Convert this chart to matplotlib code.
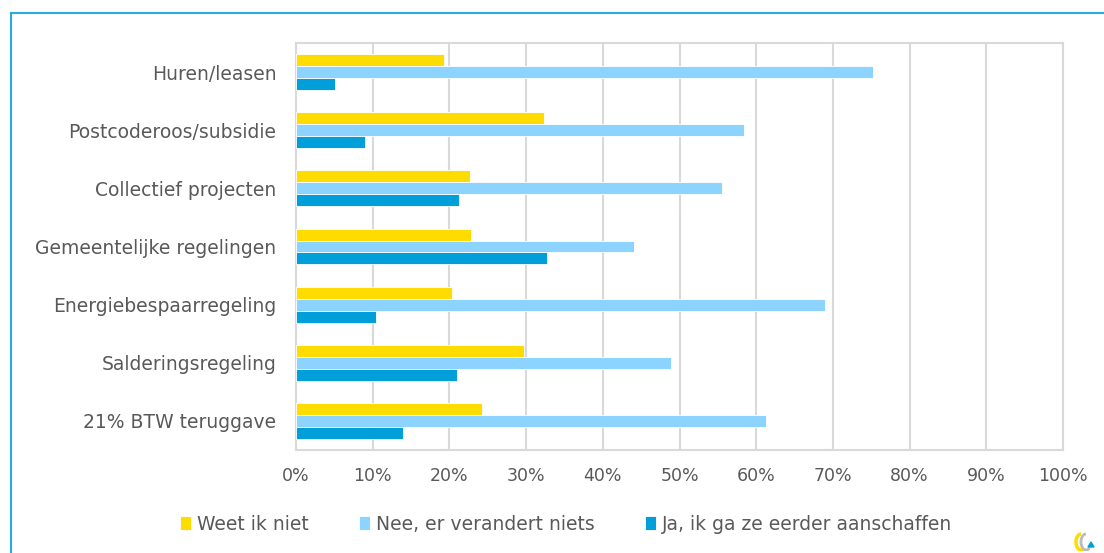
import matplotlib
matplotlib.use("Agg")
import matplotlib.pyplot as plt
from matplotlib.patches import Arc, Polygon
import numpy as np

categories = ["21% BTW teruggave", "Salderingsregeling", "Energiebespaarregeling",
              "Gemeentelijke regelingen", "Collectief projecten",
              "Postcoderoos/subsidie", "Huren/leasen"]
weet_niet = [24.3, 29.7, 20.3, 22.8, 22.7, 32.3, 19.3]
nee_niets = [61.3, 48.9, 69.0, 44.1, 55.6, 58.4, 75.2]
ja_eerder = [14.0, 21.0, 10.4, 32.7, 21.3, 9.0, 5.1]
series_names = ["Weet ik niet", "Nee, er verandert niets", "Ja, ik ga ze eerder aanschaffen"]
colors = ["#FFDC00", "#8DD3FF", "#009FD9"]
xticks = list(range(0, 101, 10))

plt.rcParams['font.family'] = ['DejaVu Sans']
txt = "#595959"

fig = plt.figure(figsize=(11.04, 5.53), dpi=100)
W, H = 1104, 553
ax = fig.add_axes([296 / W, 1 - 450 / H, (1063 - 296) / W, (450 - 43) / H])

y = np.arange(len(categories))
h = 0.205
for vals, off, c, name in zip([weet_niet, nee_niets, ja_eerder], [h, 0, -h], colors, series_names):
    ax.barh(y + off, vals, height=h, color=c, edgecolor="white", linewidth=0.6, label=name, zorder=3)

ax.set_xlim(0, 100)
ax.set_ylim(-0.5, len(categories) - 0.5)
ax.set_xticks(xticks)
ax.set_xticklabels([f"{v}%" for v in xticks], color=txt, fontsize=12.5)
ax.set_yticks(y)
ax.set_yticklabels(categories, color=txt, fontsize=13.5)
ax.tick_params(axis='y', length=0, pad=14)
ax.tick_params(axis='x', length=0, pad=12)
ax.grid(axis='x', color="#D9D9D9", linewidth=1.5, zorder=0)
for s in ax.spines.values():
    s.set_color("#D9D9D9")
    s.set_linewidth(1.5)

leg = fig.legend(loc="center", bbox_to_anchor=(566 / W, 1 - 524 / H), ncol=3, frameon=False,
                 fontsize=13.5, handlelength=0.6, handleheight=0.75, handletextpad=0.3,
                 columnspacing=2.7, labelcolor=txt)

# outer border (left and top)
fig.add_artist(plt.Line2D([11 / W, 11 / W], [0, 1 - 13 / H], transform=fig.transFigure, color="#29ABE2", linewidth=1.5))
fig.add_artist(plt.Line2D([11 / W, 1103 / W], [1 - 13 / H, 1 - 13 / H], transform=fig.transFigure, color="#29ABE2", linewidth=1.5))

# small logo
lax = fig.add_axes([1073 / W, 1 - 551 / H, 22 / W, 20 / H])
lax.set_xlim(0, 22); lax.set_ylim(0, 20); lax.axis('off')
lax.add_patch(Arc((8, 9), 10, 16, theta1=90, theta2=300, color="#FFDC00", linewidth=2.5))
lax.add_patch(Arc((13, 9), 10, 16, theta1=90, theta2=300, color="#BBBBBB", linewidth=2))
lax.add_patch(Polygon([[15, 4], [21, 4], [18, 9]], color="#009FD9"))

fig.savefig("out.png", dpi=100)
